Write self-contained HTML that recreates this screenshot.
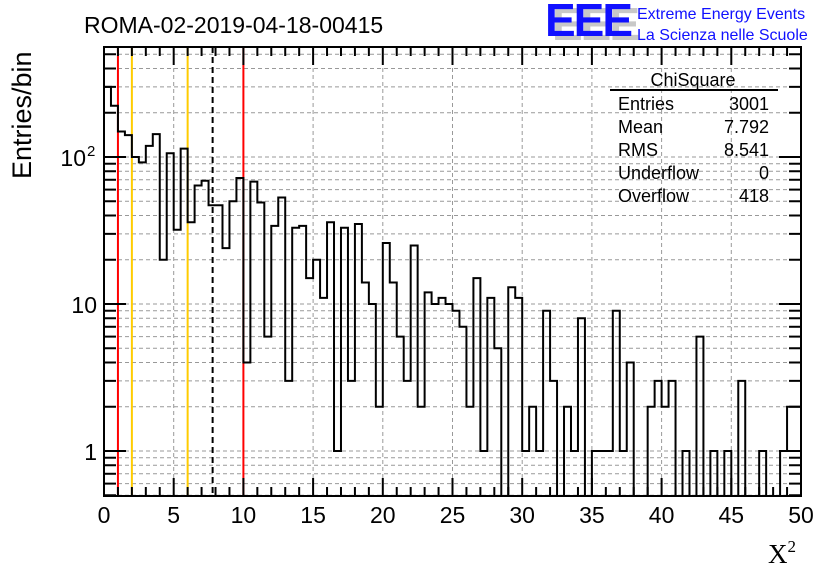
<!DOCTYPE html>
<html><head><meta charset="utf-8"><style>
html,body{margin:0;padding:0;background:#fff;}
svg{display:block;font-family:"Liberation Sans",sans-serif;}
</style></head><body>
<svg id="chart" width="836" height="572" viewBox="0 0 836 572" xmlns="http://www.w3.org/2000/svg">
<rect width="836" height="572" fill="#fff"/>
<g id="grid"></g>
<g id="lines"></g>
<path id="hist" fill="none" stroke="#000" stroke-width="2"/>
<g id="axes"></g>
<text x="84" y="33" font-size="23">ROMA-02-2019-04-18-00415</text>
<g>
<text x="552" y="40" font-size="46" font-weight="bold" fill="#c8c8c8" letter-spacing="-2">EEE</text>
<text x="545" y="36" font-size="46" font-weight="bold" fill="#1010ff" letter-spacing="-2">EEE</text>
<text x="637" y="19" font-size="16" fill="#1010ff">Extreme Energy Events</text>
<text x="637" y="40" font-size="16" fill="#1010ff">La Scienza nelle Scuole</text>
</g>
<g font-size="18">
<text x="693" y="86" text-anchor="middle">ChiSquare</text>
<line x1="610" y1="90" x2="778" y2="90" stroke="#000" stroke-width="2"/>
<text x="618" y="110">Entries</text><text x="769" y="110" text-anchor="end">3001</text>
<text x="618" y="133">Mean</text><text x="769" y="133" text-anchor="end">7.792</text>
<text x="618" y="156">RMS</text><text x="769" y="156" text-anchor="end">8.541</text>
<text x="618" y="179">Underflow</text><text x="769" y="179" text-anchor="end">0</text>
<text x="618" y="202">Overflow</text><text x="769" y="202" text-anchor="end">418</text>
</g>
<text transform="translate(31,179) rotate(-90)" font-size="27">Entries/bin</text>
<text x="768" y="563" font-size="27" font-family="Liberation Serif,serif">X<tspan font-size="17" dy="-11">2</tspan></text>
</svg>
<script>
const binWidth = 0.5;
const counts = [300,223,149,141,100,92,119,143,20,106,32,114,36,64,69,47,47,24,50,72,
4,68,49,6,34,53,3,33,34,15,20,11,36,1,33,3,35,14,10,2,
26,14,6,3,25,2,12,10,11,10,9,7,2,15,1,11,5,0,13,11,
1,2,1,9,3,0,2,1,8,0,1,1,1,9,1,4,0,0,2,3,
2,3,0,1,0,6,0,1,0,1,0,3,0,0,1,0,0,1,2,2];
const xTicks = [0,5,10,15,20,25,30,35,40,45,50];
const yTickValues = [1,10,100];
const yTickLabels = ["1","10","10"];
const yTickExp = ["","","2"];
const refLines = [1,10];
const yellowLines = [2,6];
const meanValue = 7.792;

const X0=104,X1=801,Y0=47,Y1=496;
const xMin=0,xMax=50;
function xs(v){return X0+(v-xMin)/(xMax-xMin)*(X1-X0);}
function ys(v){ if(v<=0) return Y1; return Math.max(Y0,Math.min(Y1,451-147*Math.log10(v))); }
const NS="http://www.w3.org/2000/svg";
function mk(tag,attrs,parent){const e=document.createElementNS(NS,tag);for(const k in attrs)e.setAttribute(k,attrs[k]);parent.appendChild(e);return e;}
const grid=document.getElementById('grid'),axes=document.getElementById('axes'),lines=document.getElementById('lines');
xTicks.forEach(t=>{
  const g=mk('line',{x1:xs(t),x2:xs(t),y1:Y0,y2:Y1,stroke:'#999','stroke-dasharray':'4,3','stroke-width':1},grid);
  
  
});
const logTicks=[];
for(let d=-1;d<=2;d++){for(let m=1;m<=9;m++){const v=m*Math.pow(10,d);const y=451-147*Math.log10(v);if(y>=Y0&&y<=Y1)logTicks.push({v,major:m===1,y});}}
logTicks.forEach(t=>{
  const g=mk('line',{x1:X0,x2:X1,y1:t.y,y2:t.y,stroke:'#999','stroke-dasharray':'4,3','stroke-width':1},grid);
  
  
  const len=t.major?22:12;
  mk('line',{x1:X0,x2:X0+len,y1:t.y,y2:t.y,stroke:'#000','stroke-width':2},axes);
  mk('line',{x1:X1,x2:X1-len,y1:t.y,y2:t.y,stroke:'#000','stroke-width':2},axes);
});
refLines.forEach(v=>{const l=mk('line',{x1:xs(v),x2:xs(v),y1:Y0,y2:Y1,stroke:'#ff0000','stroke-width':2},lines);
  
  });
yellowLines.forEach(v=>{const l=mk('line',{x1:xs(v),x2:xs(v),y1:Y0,y2:Y1,stroke:'#ffcc00','stroke-width':2},lines);
  
  });
const ml=mk('line',{x1:xs(meanValue),x2:xs(meanValue),y1:Y0,y2:Y1,stroke:'#000','stroke-width':2,'stroke-dasharray':'6,4'},lines);


let d='M'+xs(0)+','+Y1;
counts.forEach((c,i)=>{const y=ys(c);d+=' L'+xs(i*binWidth)+','+y+' L'+xs((i+1)*binWidth)+','+y;});
d+=' L'+xs(counts.length*binWidth)+','+Y1;
document.getElementById('hist').setAttribute('d',d);
const fr=mk('rect',{x:X0,y:Y0,width:X1-X0,height:Y1-Y0,fill:'none',stroke:'#000','stroke-width':2},axes);


for(let v=0;v<=50;v++){const len=v%5===0?18:9;const x=xs(v);
  mk('line',{x1:x,x2:x,y1:Y1,y2:Y1-len,stroke:'#000','stroke-width':2},axes);
  mk('line',{x1:x,x2:x,y1:Y0,y2:Y0+len,stroke:'#000','stroke-width':2},axes);}
xTicks.forEach(t=>{const tx=mk('text',{x:xs(t),y:523,'font-size':23,'text-anchor':'middle'},axes);tx.textContent=t;
  
  });
yTickValues.forEach((v,i)=>{
  const hasExp=yTickExp[i]!=="";
  const tx=mk('text',{x:hasExp?86:97,y:ys(v)+9,'font-size':23,'text-anchor':'end'},axes);tx.textContent=yTickLabels[i];
  
  
  if(hasExp){const sp=mk('text',{x:87,y:ys(v)-1,'font-size':15},axes);sp.textContent=yTickExp[i];
    
    }
});
</script>
</body></html>
